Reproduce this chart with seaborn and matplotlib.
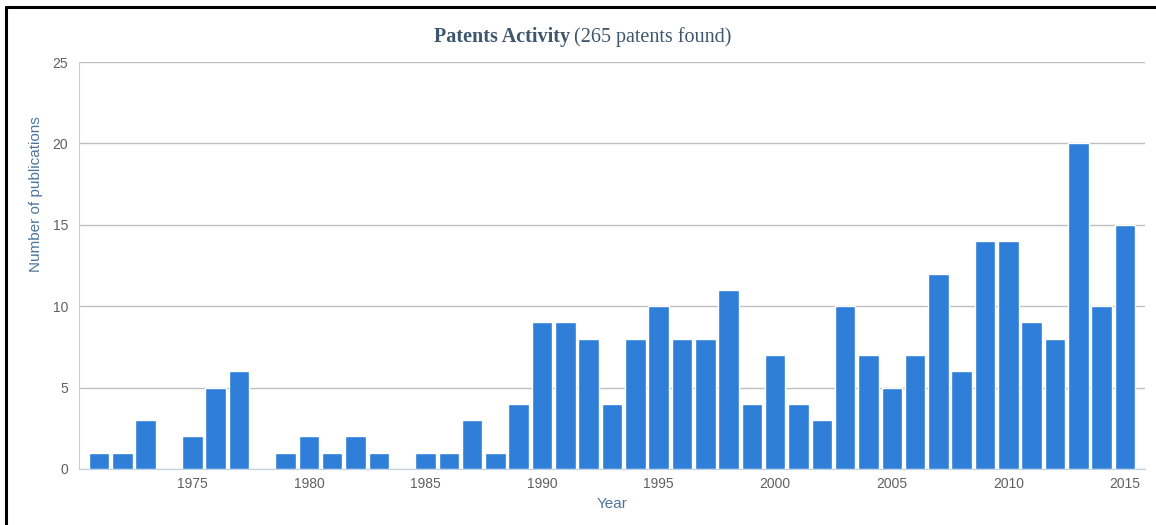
import numpy as np
import pandas as pd
import seaborn as sns
import matplotlib.pyplot as plt
from matplotlib.lines import Line2D

years = list(range(1971, 2016))
counts = [1, 1, 3, 0, 2, 5, 6, 0, 1, 2, 1, 2, 1, 0, 1, 1, 3, 1, 4,
          9, 9, 8, 4, 8, 10, 8, 8, 11, 4, 7, 4, 3, 10, 7, 5, 7, 12, 6, 14,
          14, 9, 8, 20, 10, 15]
year_ticks = [1975, 1980, 1985, 1990, 1995, 2000, 2005, 2010, 2015]
y_ticks = [0, 5, 10, 15, 20, 25]

df = pd.DataFrame({"Year": years, "Count": counts})

sns.set_style("white")
plt.rcParams['font.family'] = ['Liberation Sans', 'DejaVu Sans']

fig = plt.figure(figsize=(11.56, 5.25), dpi=100)
ax = fig.add_axes([79 / 1156, 56 / 525, (1145 - 79) / 1156, (469 - 62) / 525])

sns.barplot(data=df, x="Year", y="Count", native_scale=True, color="#2f7ed8",
            saturation=1, edgecolor="white", linewidth=1, width=0.88, ax=ax)

ax.set_xlim(1970.14, 2015.86)
ax.set_ylim(0, 25)
ax.set_yticks(y_ticks)
ax.set_xticks(year_ticks)
ax.set_xticklabels([str(y) for y in year_ticks])
ax.yaxis.grid(True, color="#c0c0c0", linewidth=1)
ax.set_axisbelow(True)
for s in ["top", "right"]:
    ax.spines[s].set_visible(False)
ax.spines["left"].set_color("#c0d0e0")
ax.spines["bottom"].set_color("#c0d0e0")
ax.tick_params(axis="x", colors="#606060", labelsize=10, length=5, width=1,
               direction="out", pad=1)
ax.tick_params(axis="x", color="#c0d0e0")
ax.tick_params(axis="y", colors="#606060", labelsize=10, length=0, pad=8)
ax.set_xlabel("Year", color="#4d759e", fontsize=11)
ax.xaxis.set_label_coords(0.5, -0.07)
ax.set_ylabel("Number of publications", color="#4d759e", fontsize=11)
ax.yaxis.set_label_coords(-0.0335, 0.676)

# title in two parts
title_color = "#3e576f"
fig.text(570 / 1156, 1 - 37 / 525, "Patents Activity", ha="right", va="center",
         fontsize=14.5, fontweight="bold", color=title_color, family="Liberation Serif")
fig.text(574 / 1156, 1 - 37 / 525, "(265 patents found)", ha="left", va="center",
         fontsize=14.5, color=title_color, family="Liberation Serif")

# frame lines along top and left
fig.add_artist(Line2D([6 / 1156, 1], [1 - 7 / 525, 1 - 7 / 525], color="black",
                      linewidth=2.2, transform=fig.transFigure))
fig.add_artist(Line2D([6 / 1156, 6 / 1156], [0, 1 - 7 / 525], color="black",
                      linewidth=2.2, transform=fig.transFigure))

fig.savefig("out.png", dpi=100)
